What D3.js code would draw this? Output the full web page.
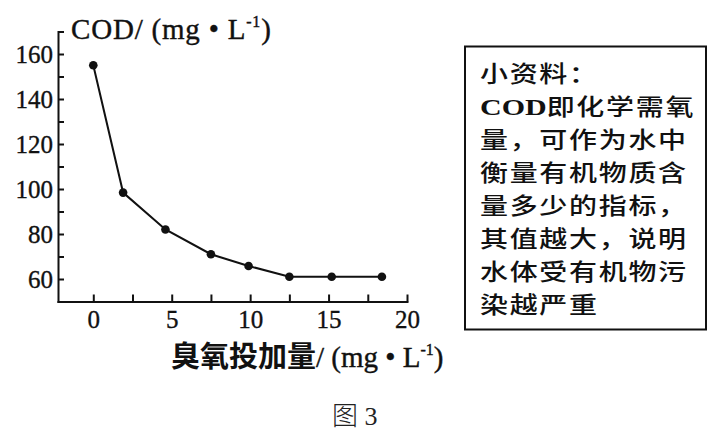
<!DOCTYPE html>
<html>
<head>
<meta charset="utf-8">
<script src="https://cdn.jsdelivr.net/npm/d3@7"></script>
<style>
  body { margin: 0; background: #fff; }
  .serif { font-family: "Liberation Serif", "DejaVu Serif", serif; }
  .cjk { font-family: "Noto Sans CJK SC", sans-serif; }
  .axis text { font-family: "Liberation Serif", serif; font-size: 25px; fill: #111; stroke: #111; stroke-width: 0.35px; }
  .axis path, .axis line { stroke: #111; stroke-width: 2px; }
  .heavy { stroke: #111; stroke-width: 0.4px; }
</style>
</head>
<body>
<div id="chart"></div>
<script>
// chart values
var ozoneDose = [0, 1.9, 4.6, 7.5, 9.9, 12.5, 15.2, 18.4];
var codValues = [155, 98.4, 82, 71, 65.8, 61, 61, 61];
var xTickValues = [0, 2.5, 5, 7.5, 10, 12.5, 15, 17.5, 20];
var yTickValues = [60, 70, 80, 90, 100, 110, 120, 130, 140, 150, 160, 170];
var xLabelTicks = [0, 5, 10, 15, 20];
var yLabelTicks = [60, 80, 100, 120, 140, 160];
var noteLines = [
  "小资料：",
  "COD即化学需氧",
  "量，可作为水中",
  "衡量有机物质含",
  "量多少的指标，",
  "其值越大，说明",
  "水体受有机物污",
  "染越严重"
];

var width = 716,
  height = 435;

var x = d3.scaleLinear().domain([-2.25, 20]).range([58, 407]);
var y = d3.scaleLinear().domain([50, 170]).range([301.5, 31.5]);

var svg = d3
  .select("#chart")
  .append("svg")
  .attr("width", width)
  .attr("height", height);

// x axis, ticks point up into the plot
svg
  .append("g")
  .attr("class", "axis")
  .attr("transform", "translate(0," + y(50) + ")")
  .call(
    d3
      .axisBottom(x)
      .tickValues(xTickValues)
      .tickSizeInner(-7)
      .tickSizeOuter(0)
      .tickPadding(9)
      .tickFormat(function (d) {
        return xLabelTicks.indexOf(d) >= 0 ? d : "";
      })
  );

// y axis, ticks point right into the plot
svg
  .append("g")
  .attr("class", "axis")
  .attr("transform", "translate(" + x(-2.25) + ",0)")
  .call(
    d3
      .axisLeft(y)
      .tickValues(yTickValues)
      .tickSizeInner(-6)
      .tickSizeOuter(0)
      .tickPadding(5)
      .tickFormat(function (d) {
        return yLabelTicks.indexOf(d) >= 0 ? d : "";
      })
  );
svg.selectAll(".axis .domain").attr("stroke-linecap", "square");

// the line and its points
var line = d3
  .line()
  .x(function (d, i) {
    return x(ozoneDose[i]);
  })
  .y(function (d) {
    return y(d);
  });

svg
  .append("path")
  .datum(codValues)
  .attr("d", line)
  .attr("fill", "none")
  .attr("stroke", "#111")
  .attr("stroke-width", 2);

svg
  .selectAll(".dot")
  .data(codValues)
  .enter()
  .append("circle")
  .attr("class", "dot")
  .attr("cx", function (d, i) {
    return x(ozoneDose[i]);
  })
  .attr("cy", function (d) {
    return y(d);
  })
  .attr("r", 4.3)
  .attr("fill", "#111");

// y axis title
var yTitle = svg
  .append("text")
  .attr("class", "serif heavy")
  .attr("x", 71)
  .attr("y", 38.5)
  .attr("font-size", 29)
  .attr("letter-spacing", 0.8)
  .attr("fill", "#111");
yTitle.append("tspan").text("COD/ (mg • L");
yTitle.append("tspan").attr("font-size", 16).attr("dy", -12).text("-1");
yTitle.append("tspan").attr("dy", 12).text(")");

// x axis title
var xTitle = svg
  .append("text")
  .attr("x", 171)
  .attr("y", 367)
  .attr("font-size", 29)
  .attr("fill", "#111");
xTitle
  .append("tspan")
  .attr("class", "cjk")
  .attr("font-weight", 700)
  .text("臭氧投加量");
xTitle.append("tspan").attr("class", "serif heavy").text("/ (mg • L");
xTitle
  .append("tspan")
  .attr("class", "serif heavy")
  .attr("font-size", 16)
  .attr("dy", -12)
  .text("-1");
xTitle.append("tspan").attr("class", "serif heavy").attr("dy", 12).text(")");

// note box on the right
svg
  .append("rect")
  .attr("x", 465)
  .attr("y", 46.5)
  .attr("width", 241)
  .attr("height", 283)
  .attr("fill", "none")
  .attr("stroke", "#111")
  .attr("stroke-width", 2);

// each note line is squeezed a bit vertically, as in the printed figure
var note = svg
  .selectAll(".note")
  .data(noteLines)
  .enter()
  .append("text")
  .attr("class", "note cjk")
  .attr("transform", function (d, i) {
    return "translate(480," + (82 + i * 33) + ") scale(1,0.8)";
  })
  .attr("font-size", 28)
  .attr("font-weight", 500)
  .attr("letter-spacing", 1.7)
  .attr("fill", "#111");

note.each(function (d) {
  var t = d3.select(this);
  if (d.indexOf("COD") === 0) {
    t.append("tspan")
      .attr("class", "serif")
      .attr("font-weight", 700)
      .attr("font-size", 30)
      .attr("letter-spacing", 0)
      .text("COD");
    t.append("tspan").text(d.slice(3));
  } else {
    t.text(d);
  }
});

// caption
var caption = svg
  .append("text")
  .attr("x", 332)
  .attr("y", 425)
  .attr("font-size", 26)
  .attr("fill", "#222");
caption.append("tspan").attr("class", "cjk").attr("font-weight", 300).text("图");
caption.append("tspan").attr("class", "serif").text(" 3");
</script>
</body>
</html>
